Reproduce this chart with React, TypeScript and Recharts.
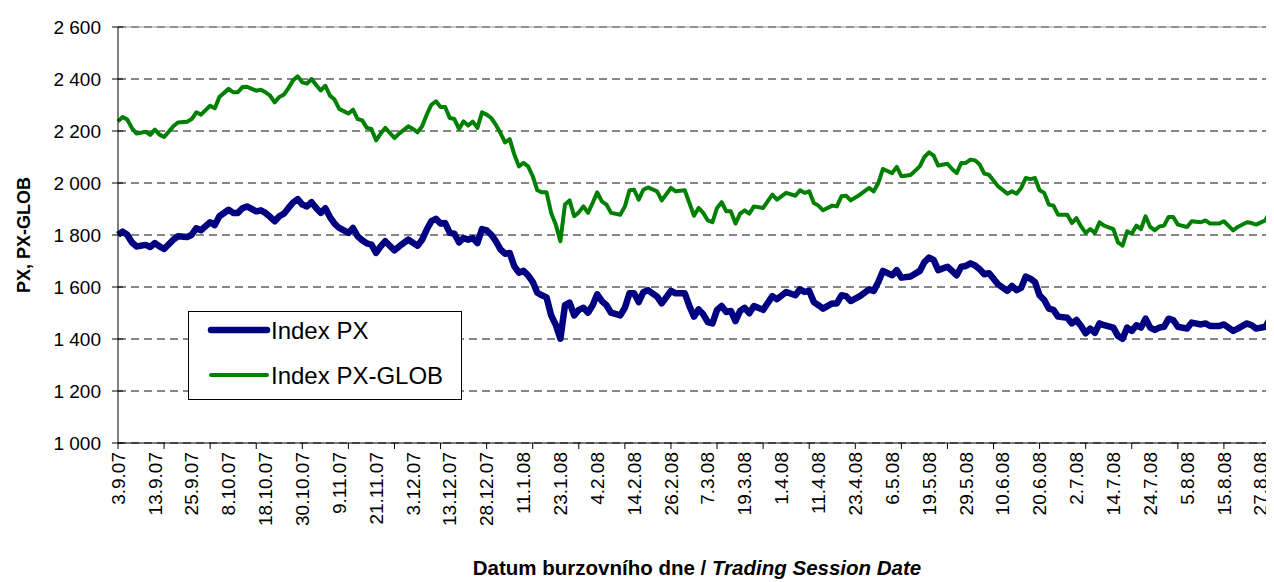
import { CartesianGrid, Legend, Line, LineChart, ReferenceLine, XAxis, YAxis } from "recharts";

const FONT = '"Liberation Sans", Arial, sans-serif';
const PX_COLOR = "#000080";
const GLOB_COLOR = "#008000";

// trading session number counted from 3.9.2007 (0) to 29.8.2008 (250)
const sessionIdx = [
  0, 1, 2, 3, 4, 6, 7, 8, 9, 10, 12, 13, 15, 16, 17, 18, 20, 21, 22, 24, 25, 26, 27, 28, 30, 31, 32, 33, 34, 35,
  36, 37, 38, 39, 40, 41, 42, 43, 44, 45, 46, 47, 48, 50, 51, 52, 53, 54, 55, 56, 57, 58, 60, 61, 63, 64, 65, 66,
  67, 68, 69, 70, 71, 72, 73, 74, 75, 76, 77, 78, 79, 80, 81, 82, 83, 84, 85, 86, 87, 88, 89, 90, 91, 92, 93, 94,
  95, 96, 97, 98, 99, 100, 101, 102, 103, 104, 105, 106, 107, 109, 110, 111, 112, 113, 114, 115, 117, 118, 120,
  121, 123, 124, 125, 126, 127, 128, 129, 130, 131, 132, 133, 134, 135, 136, 137, 138, 140, 142, 143, 145, 147,
  148, 149, 150, 151, 152, 153, 155, 156, 157, 158, 159, 161, 163, 164, 165, 166, 168, 169, 170, 172, 174, 175,
  176, 177, 178, 180, 181, 182, 183, 184, 185, 186, 187, 188, 189, 190, 191, 193, 194, 195, 196, 197, 198, 199,
  200, 201, 202, 203, 204, 206, 207, 208, 209, 210, 211, 212, 213, 214, 216, 217, 218, 219, 220, 221, 222, 223,
  224, 225, 226, 227, 228, 229, 230, 232, 233, 235, 236, 237, 239, 240, 242, 243, 245, 246, 247, 249, 250,
];

const pxValues = [
  1801, 1813, 1801, 1772, 1756, 1762, 1754, 1769, 1756, 1746, 1782, 1795, 1792, 1801, 1826, 1818, 1849, 1838, 1872,
  1897, 1885, 1885, 1903, 1910, 1891, 1895, 1885, 1870, 1853, 1872, 1882, 1904, 1925, 1938, 1917, 1910, 1926, 1904,
  1885, 1903, 1869, 1844, 1827, 1808, 1827, 1795, 1780, 1768, 1763, 1731, 1756, 1776, 1741, 1756, 1782, 1770, 1759,
  1782, 1821, 1853, 1862, 1844, 1846, 1808, 1805, 1772, 1788, 1782, 1788, 1769, 1823, 1818, 1801, 1776, 1745, 1728,
  1731, 1680, 1655, 1662, 1645, 1620, 1578, 1568, 1560, 1491, 1455, 1401, 1530, 1540, 1491, 1512, 1520, 1501, 1530,
  1572, 1546, 1530, 1501, 1491, 1520, 1576, 1576, 1542, 1580, 1588, 1563, 1537, 1585, 1576, 1576, 1527, 1486, 1514,
  1495, 1465, 1460, 1512, 1527, 1504, 1508, 1469, 1508, 1520, 1499, 1527, 1512, 1565, 1553, 1581, 1568, 1591, 1581,
  1585, 1542, 1530, 1517, 1537, 1537, 1568, 1565, 1546, 1565, 1591, 1585, 1619, 1662, 1645, 1665, 1636, 1640, 1662,
  1696, 1713, 1704, 1665, 1678, 1662, 1645, 1678, 1681, 1691, 1683, 1668, 1649, 1653, 1632, 1610, 1585, 1604, 1588,
  1597, 1640, 1632, 1619, 1568, 1550, 1517, 1512, 1486, 1482, 1460, 1473, 1450, 1422, 1440, 1424, 1460, 1453, 1444,
  1412, 1401, 1444, 1431, 1453, 1444, 1478, 1444, 1435, 1444, 1447, 1478, 1473, 1447, 1440, 1463, 1456, 1460, 1450,
  1450, 1456, 1431, 1440, 1460, 1453, 1440, 1447, 1478,
];

const pxGlobValues = [
  2237, 2254, 2244, 2212, 2190, 2197, 2185, 2205, 2186, 2177, 2218, 2233, 2236, 2246, 2272, 2263, 2297, 2287, 2331,
  2362, 2349, 2349, 2369, 2370, 2355, 2359, 2349, 2336, 2310, 2331, 2340, 2365, 2395, 2410, 2387, 2382, 2400, 2377,
  2356, 2374, 2336, 2321, 2285, 2267, 2282, 2246, 2241, 2212, 2208, 2164, 2190, 2212, 2173, 2190, 2218, 2208, 2195,
  2218, 2263, 2301, 2314, 2292, 2292, 2250, 2246, 2208, 2237, 2221, 2236, 2212, 2272, 2263, 2250, 2224, 2192, 2156,
  2169, 2110, 2064, 2077, 2064, 2026, 1972, 1964, 1964, 1885, 1840, 1776, 1917, 1933, 1872, 1887, 1910, 1885, 1923,
  1964, 1929, 1917, 1885, 1878, 1910, 1972, 1974, 1936, 1974, 1983, 1968, 1933, 1981, 1968, 1972, 1923, 1874, 1904,
  1885, 1856, 1849, 1904, 1926, 1891, 1891, 1844, 1882, 1895, 1882, 1910, 1904, 1955, 1936, 1962, 1951, 1972, 1962,
  1968, 1923, 1913, 1895, 1913, 1910, 1949, 1951, 1933, 1955, 1981, 1968, 2000, 2054, 2038, 2062, 2026, 2031, 2064,
  2100, 2118, 2105, 2067, 2074, 2054, 2038, 2077, 2077, 2090, 2087, 2071, 2036, 2032, 2010, 1987, 1959, 1968, 1959,
  1981, 2019, 2015, 2019, 1972, 1962, 1917, 1913, 1878, 1878, 1846, 1865, 1833, 1808, 1823, 1808, 1849, 1836, 1823,
  1772, 1759, 1814, 1805, 1836, 1823, 1872, 1831, 1818, 1833, 1836, 1869, 1869, 1840, 1831, 1853, 1849, 1856, 1844,
  1844, 1853, 1818, 1831, 1849, 1846, 1840, 1856, 1891,
];

// one label every 8 sessions
const dateLabels = [
  "3.9.07", "13.9.07", "25.9.07", "8.10.07", "18.10.07", "30.10.07", "9.11.07", "21.11.07", "3.12.07", "13.12.07",
  "28.12.07", "11.1.08", "23.1.08", "4.2.08", "14.2.08", "26.2.08", "7.3.08", "19.3.08", "1.4.08", "11.4.08",
  "23.4.08", "6.5.08", "19.5.08", "29.5.08", "10.6.08", "20.6.08", "2.7.08", "14.7.08", "24.7.08", "5.8.08",
  "15.8.08", "27.8.08",
];
const LABEL_STEP = 8;
const TICK_STEP = 10;
const LAST_SESSION = 250;

const yTicks = [1000, 1200, 1400, 1600, 1800, 2000, 2200, 2400, 2600];
const seriesNames = ["Index PX", "Index PX-GLOB"];

const data = sessionIdx.map((d, i) => ({ d, px: pxValues[i], glob: pxGlobValues[i] }));

const xTicks: number[] = [];
for (let i = 0; i <= LAST_SESSION; i++) {
  if (i % LABEL_STEP === 0 || i % TICK_STEP === 0) xTicks.push(i);
}

const fmtThousands = (v: number) =>
  v >= 1000 ? `${Math.floor(v / 1000)} ${String(v % 1000).padStart(3, "0")}` : String(v);

function DateTick(props: any) {
  const { x, y, payload } = props;
  const idx = payload.value as number;
  const label = idx % LABEL_STEP === 0 ? dateLabels[idx / LABEL_STEP] : null;
  return (
    <g>
      {idx % TICK_STEP === 0 && <line x1={x} x2={x} y1={y} y2={y + 6} stroke="#000" />}
      {label && (
        <text
          transform={`translate(${x},${y + 9}) rotate(-90)`}
          textAnchor="end"
          dy="0.35em"
          fontSize={19}
          fontFamily={FONT}
          fill="#000"
        >
          {label}
        </text>
      )}
    </g>
  );
}

// y ticks in the original cross the axis line
function ValueTick(props: any) {
  const { x, y, payload } = props;
  return (
    <g>
      <line x1={x + 11} x2={x + 22} y1={y} y2={y} stroke="#000" />
      <text x={x} y={y} dy="0.35em" textAnchor="end" fontSize={19} fontFamily={FONT} fill="#000">
        {fmtThousands(payload.value)}
      </text>
    </g>
  );
}

function LegendBox() {
  return (
    <div style={{ width: 274, height: 89, boxSizing: "border-box", border: "1px solid #000", background: "#fff" }}>
      <svg width={272} height={87}>
        <line x1={22} x2={78} y1={18} y2={18} stroke={PX_COLOR} strokeWidth={6.5} strokeLinecap="round" />
        <text x={82} y={18} dy="0.36em" fontSize={24} fontFamily={FONT} fill="#000">
          {seriesNames[0]}
        </text>
        <line x1={22} x2={78} y1={63} y2={63} stroke={GLOB_COLOR} strokeWidth={4} strokeLinecap="round" />
        <text x={82} y={63} dy="0.36em" fontSize={24} fontFamily={FONT} fill="#000">
          {seriesNames[1]}
        </text>
      </svg>
    </div>
  );
}

export default function App() {
  return (
    <LineChart
      width={1266}
      height={574}
      data={data}
      margin={{ top: 19, right: 4, bottom: 0, left: 0 }}
      style={{ fontFamily: FONT, background: "#fff" }}
    >
      <CartesianGrid vertical={false} stroke="#111" strokeDasharray="8 5" />
      <XAxis
        dataKey="d"
        type="number"
        domain={[0, LAST_SESSION]}
        ticks={xTicks}
        interval={0}
        height={139}
        tickSize={0}
        tickMargin={0}
        tickLine={false}
        axisLine={{ stroke: "#000" }}
        tick={<DateTick />}
        label={{
          content: () => (
            <text x={689} y={567} textAnchor="middle" fontSize={20.5} fontWeight="bold" fontFamily={FONT} fill="#000">
              <tspan>Datum burzovního dne / </tspan>
              <tspan fontStyle="italic">Trading Session Date</tspan>
            </text>
          ),
        }}
      />
      <YAxis
        type="number"
        domain={[1000, 2600]}
        ticks={yTicks}
        interval={0}
        width={110}
        tickSize={0}
        tickMargin={17}
        tick={<ValueTick />}
        tickLine={false}
        axisLine={{ stroke: "#000" }}
        label={{
          content: () => (
            <text
              transform="translate(16,227) rotate(-90)"
              textAnchor="middle"
              dy="0.35em"
              fontSize={18}
              fontWeight="bold"
              fontFamily={FONT}
              fill="#000"
            >
              PX, PX-GLOB
            </text>
          ),
        }}
      />
      <ReferenceLine y={2600} stroke="#999" />
      <ReferenceLine x={LAST_SESSION} stroke="#000" />
      <Legend
        layout="horizontal"
        verticalAlign="middle"
        align="center"
        wrapperStyle={{ left: 180, top: 303, width: 274, height: 89 }}
        content={() => <LegendBox />}
      />
      <Line
        dataKey="px"
        name={seriesNames[0]}
        stroke={PX_COLOR}
        strokeWidth={6.5}
        strokeLinejoin="round"
        dot={false}
        isAnimationActive={false}
      />
      <Line
        dataKey="glob"
        name={seriesNames[1]}
        stroke={GLOB_COLOR}
        strokeWidth={4}
        strokeLinejoin="round"
        dot={false}
        isAnimationActive={false}
      />
    </LineChart>
  );
}
